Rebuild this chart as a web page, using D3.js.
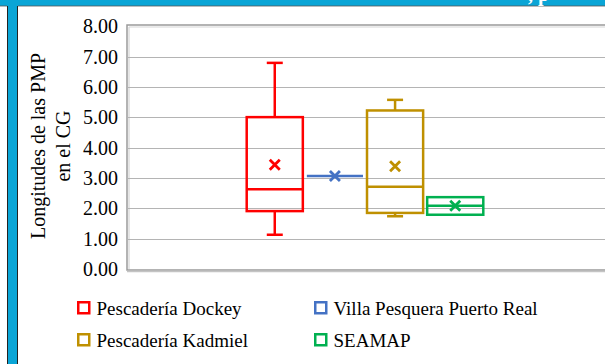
<!DOCTYPE html>
<html>
<head>
<meta charset="utf-8">
<script src="https://cdn.jsdelivr.net/npm/d3@7"></script>
<style>
  body { margin: 0; background: #fff; }
  svg { display: block; }
  svg text { font-family: 'Liberation Serif', 'Times New Roman', Tinos, 'DejaVu Serif', serif; }
</style>
</head>
<body>
<svg id="chart" width="605" height="364"></svg>
<script>
const series = ['Pescadería Dockey', 'Villa Pesquera Puerto Real', 'Pescadería Kadmiel', 'SEAMAP']
const colors = ['#FF0000', '#4472C4', '#BF9000', '#00B050']
const whiskerLow = [1.13, 3.07, 1.74, 1.79]
const q1 = [1.91, 3.07, 1.85, 1.79]
const median = [2.63, 3.07, 2.71, 2.09]
const q3 = [5.01, 3.07, 5.23, 2.37]
const whiskerHigh = [6.80, 3.07, 5.58, 2.37]
const means = [3.44, 3.07, 3.39, 2.09]
const yTicks = [0, 1, 2, 3, 4, 5, 6, 7, 8]
const yTitle = ['Longitudes de las PMP', 'en el CG']
// legend rows as drawn: two columns
const legendOrder = [0, 1, 2, 3]

const serifFont = "'Liberation Serif', 'Times New Roman', Tinos, 'DejaVu Serif', serif"

const svg = d3.select('#chart')

// page decoration (blue band and side bar)
svg.append('rect').attr('x', 0).attr('y', 0).attr('width', 605).attr('height', 6).attr('fill', '#0aa5d6')
svg.append('line').attr('x1', 0).attr('x2', 605).attr('y1', 6).attr('y2', 6).attr('stroke', '#555').attr('stroke-width', 0.8)
svg.append('rect').attr('x', 7).attr('y', 0).attr('width', 11).attr('height', 364).attr('fill', '#0aa5d6')
svg.append('line').attr('x1', 7.5).attr('x2', 7.5).attr('y1', 6).attr('y2', 364).attr('stroke', '#222').attr('stroke-width', 1)
svg.append('line').attr('x1', 17.5).attr('x2', 17.5).attr('y1', 6).attr('y2', 364).attr('stroke', '#222').attr('stroke-width', 1)
svg.append('text').attr('x', 528).attr('y', 1).attr('fill', '#fff')
  .attr('font-family', serifFont)
  .style('font-size', '20px').style('font-weight', 'bold').text(', p')

const plot = { left: 127, right: 603, top: 25, bottom: 269 }

const y = d3.scaleLinear().domain([0, 8]).range([269, 26.5])
const x = d3.scaleBand().domain(series).range([plot.left, plot.right])
  .paddingInner(0.067).paddingOuter(1.99)

// plot area frame (3d look)
svg.append('rect')
  .attr('x', plot.left).attr('y', plot.top)
  .attr('width', 700).attr('height', plot.bottom - plot.top + 1)
  .attr('fill', '#fff').attr('stroke', '#9a9a9a').attr('stroke-width', 1.5)
svg.append('line')
  .attr('x1', plot.left + 2).attr('x2', 605).attr('y1', plot.top + 2).attr('y2', plot.top + 2)
  .attr('stroke', '#d6d6d6').attr('stroke-width', 1.2)
svg.append('line')
  .attr('x1', plot.left + 2).attr('x2', plot.left + 2).attr('y1', plot.top + 2).attr('y2', plot.bottom)
  .attr('stroke', '#d6d6d6').attr('stroke-width', 1.2)
svg.append('line')
  .attr('x1', plot.left).attr('x2', 605).attr('y1', plot.bottom + 2.5).attr('y2', plot.bottom + 2.5)
  .attr('stroke', '#c4c4c4').attr('stroke-width', 1.5)

// gridlines
svg.append('g').selectAll('line')
  .data(yTicks.filter(d => d > 0 && d < 8))
  .join('line')
  .attr('x1', plot.left + 1).attr('x2', 605)
  .attr('y1', d => Math.round(y(d)) + 0.5).attr('y2', d => Math.round(y(d)) + 0.5)
  .attr('stroke', '#b4b4b4').attr('stroke-width', 1)

// y axis labels
const yAxis = d3.axisLeft(y).tickValues(yTicks).tickFormat(d3.format('.2f')).tickSize(0).tickPadding(9)
const gy = svg.append('g').attr('transform', `translate(${plot.left},0)`).call(yAxis)
gy.attr('font-family', serifFont).attr('font-size', 20)
gy.select('.domain').remove()
gy.selectAll('text').attr('fill', '#000')

// y title
const yt = svg.append('text')
  .attr('transform', 'translate(38,146) rotate(-90)')
  .attr('font-family', serifFont)
  .attr('text-anchor', 'middle').attr('font-size', 20).attr('fill', '#000')
yt.selectAll('tspan').data(yTitle).join('tspan')
  .attr('x', 0).attr('dy', (d, i) => i === 0 ? '0.35em' : '1.25em')
  .text(d => d)

// boxes
const boxes = svg.append('g').selectAll('g')
  .data(series.map((s, i) => ({ s, i })))
  .join('g')
  .attr('stroke', d => colors[d.i]).attr('fill', 'none').attr('stroke-width', 2.5)

const capW = 16
boxes.each(function (d) {
  const g = d3.select(this)
  const bw = x.bandwidth()
  const x0 = x(d.s)
  const cx = x0 + bw / 2
  const i = d.i
  if (whiskerHigh[i] > q3[i]) {
    g.append('line').attr('x1', cx).attr('x2', cx).attr('y1', y(q3[i])).attr('y2', y(whiskerHigh[i]))
    g.append('line').attr('x1', cx - capW / 2).attr('x2', cx + capW / 2).attr('y1', y(whiskerHigh[i])).attr('y2', y(whiskerHigh[i]))
  }
  if (whiskerLow[i] < q1[i]) {
    g.append('line').attr('x1', cx).attr('x2', cx).attr('y1', y(q1[i])).attr('y2', y(whiskerLow[i]))
    g.append('line').attr('x1', cx - capW / 2).attr('x2', cx + capW / 2).attr('y1', y(whiskerLow[i])).attr('y2', y(whiskerLow[i]))
  }
  if (q3[i] > q1[i]) {
    g.append('rect').attr('x', x0).attr('y', y(q3[i])).attr('width', bw).attr('height', y(q1[i]) - y(q3[i]))
  }
  g.append('line').attr('x1', x0).attr('x2', x0 + bw).attr('y1', y(median[i])).attr('y2', y(median[i]))
  const m = 5
  const my = y(means[i])
  g.append('path')
    .attr('d', `M${cx - m},${my - m}L${cx + m},${my + m}M${cx - m},${my + m}L${cx + m},${my - m}`)
    .attr('stroke-width', 2.8)
})

// legend
const legendX = [77, 314]
const legendY = [301, 333]
const lg = svg.append('g').selectAll('g')
  .data(legendOrder)
  .join('g')
  .attr('transform', (d, k) => `translate(${legendX[k % 2]},${legendY[Math.floor(k / 2)]})`)
lg.append('rect')
  .attr('x', 1.25).attr('y', 1.25).attr('width', 11).attr('height', 11)
  .attr('fill', '#fff').attr('stroke', d => colors[d]).attr('stroke-width', 2.5)
lg.append('text')
  .attr('x', 19.5).attr('y', 13.5)
  .attr('font-family', serifFont)
  .attr('font-size', 19).attr('fill', '#000')
  .text(d => series[d])
</script>
</body>
</html>
